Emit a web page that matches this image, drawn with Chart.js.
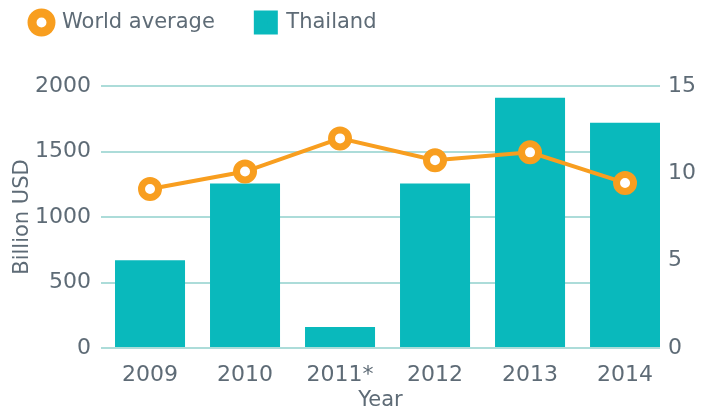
<!DOCTYPE html>
<html>
<head>
<meta charset="utf-8">
<script src="https://cdn.jsdelivr.net/npm/chart.js@4"></script>
<style>
	html, body { margin: 0; padding: 0; background: #fff; }
	#wrap { width: 704px; height: 410px; }
</style>
</head>
<body>
<div id="wrap"><canvas id="chart"></canvas></div>
<script>
const years = ['2009', '2010', '2011*', '2012', '2013', '2014'];
const thailand = [670, 1255, 160, 1255, 1910, 1720];
const worldAverage = [9.1, 10.1, 12.0, 10.75, 11.2, 9.45];
const leftTicks = [0, 500, 1000, 1500, 2000];
const rightTicks = [0, 5, 10, 15];

const teal = '#09b9bc';
const orange = '#f89e1f';
const textGray = '#5e6b76';
const gridTeal = '#acdcd9';
const tickFont = { family: 'DejaVu Sans', size: 22 };
const labelFont = { family: 'DejaVu Sans', size: 21 };

// the year slots are not centred between the gridline ends in the original,
// so x is a linear index axis with hand-picked bounds
const xMin = -0.516;
const xMax = 5.368;

// legend is taller than chart.js wants and starts further in
const legendTweak = {
	id: 'legendTweak',
	beforeLayout(chart) {
		const legend = chart.legend;
		if (!legend || legend._tweaked) return;
		legend._tweaked = true;
		const fit = legend.fit;
		legend.fit = function () {
			fit.call(this);
			this.height = 86;
		};
		const draw = legend.draw;
		legend.draw = function () {
			const ctx = this.ctx;
			ctx.save();
			ctx.translate(-9.5, -29);
			draw.call(this);
			ctx.restore();
		};
	},
};

new Chart(document.getElementById('chart'), {
	type: 'bar',
	data: {
		datasets: [
			{
				type: 'line',
				label: 'World average',
				data: worldAverage.map((v, i) => ({ x: i, y: v })),
				yAxisID: 'y1',
				order: 0,
				borderColor: orange,
				borderWidth: 4,
				pointRadius: 8.5,
				pointBorderWidth: 7,
				pointBackgroundColor: '#fff',
				pointBorderColor: orange,
				pointStyle: 'circle',
			},
			{
				label: 'Thailand',
				data: thailand.map((v, i) => ({ x: i, y: v })),
				yAxisID: 'y',
				order: 1,
				backgroundColor: teal,
				borderWidth: 0,
				categoryPercentage: 1,
				barPercentage: 0.737,
			},
		],
	},
	options: {
		responsive: true,
		maintainAspectRatio: false,
		devicePixelRatio: 1,
		animation: false,
		layout: { padding: 0 },
		plugins: {
			tooltip: { enabled: false },
			legend: {
				position: 'top',
				align: 'start',
				labels: {
					usePointStyle: true,
					boxWidth: 20,
					boxHeight: 13.4,
					padding: 41,
					color: textGray,
					font: labelFont,
					generateLabels(chart) {
						const items = Chart.defaults.plugins.legend.labels.generateLabels(chart);
						items.forEach((item) => {
							if (item.text === 'World average') {
								item.pointStyle = 'circle';
								item.fillStyle = '#fff';
								item.strokeStyle = orange;
								item.lineWidth = 9;
							} else {
								item.pointStyle = 'rect';
								item.fillStyle = teal;
								item.strokeStyle = teal;
								item.lineWidth = 10.6;
							}
						});
						return items;
					},
				},
			},
		},
		scales: {
			x: {
				type: 'linear',
				offset: false,
				min: xMin,
				max: xMax,
				afterBuildTicks(scale) {
					scale.ticks = years.map((_, i) => ({ value: i }));
				},
				grid: { display: false, drawTicks: false },
				border: { display: false },
				ticks: {
					color: textGray,
					font: tickFont,
					padding: 14,
					callback: (value) => years[value],
				},
				title: { display: true, text: 'Year', color: textGray, font: labelFont, padding: { top: 3, bottom: -3 } },
				afterFit(scale) {
					scale.height = 62;
				},
			},
			y: {
				position: 'left',
				min: leftTicks[0],
				max: leftTicks[leftTicks.length - 1],
				afterBuildTicks(scale) {
					scale.ticks = leftTicks.map((v) => ({ value: v }));
				},
				grid: { color: gridTeal, lineWidth: 2, drawTicks: false },
				border: { display: false },
				ticks: { color: textGray, font: tickFont, padding: 10, callback: (value) => String(value) },
				title: { display: true, text: 'Billion USD', color: textGray, font: labelFont, padding: { top: 10, bottom: 0 } },
				afterFit(scale) {
					scale.width = 101;
				},
			},
			y1: {
				position: 'right',
				min: rightTicks[0],
				max: rightTicks[rightTicks.length - 1],
				afterBuildTicks(scale) {
					scale.ticks = rightTicks.map((v) => ({ value: v }));
				},
				grid: { display: false, drawTicks: false },
				border: { display: false },
				ticks: { color: textGray, font: tickFont, padding: 8, callback: (value) => String(value) },
				afterFit(scale) {
					scale.width = 44;
				},
			},
		},
	},
	plugins: [legendTweak],
});
</script>
</body>
</html>
